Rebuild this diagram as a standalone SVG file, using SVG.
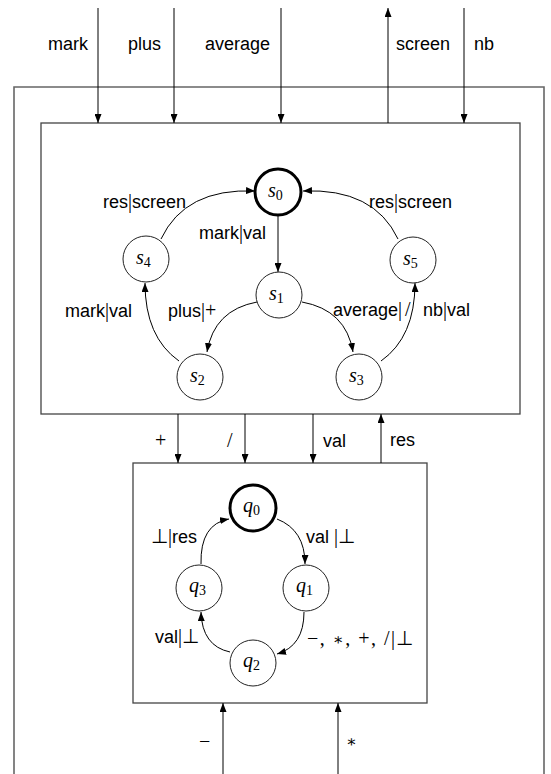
<svg xmlns="http://www.w3.org/2000/svg" width="551" height="774" viewBox="0 0 551 774">
<defs>
<marker id="ah" markerUnits="userSpaceOnUse" markerWidth="9" markerHeight="7" refX="9" refY="3.5" orient="auto">
<path d="M0,0 L9,3.5 L0,7 z" fill="#000"/>
</marker>
<style>
.box{fill:none;stroke:#444;stroke-width:1.3}
.outer{fill:none;stroke:#666;stroke-width:1.6}
.st{fill:#fff;stroke:#222;stroke-width:1}
.init{fill:#fff;stroke:#000;stroke-width:3}
.e{fill:none;stroke:#000;stroke-width:1;marker-end:url(#ah)}
.t{font-family:"Liberation Sans",Arial,sans-serif;font-size:18px;fill:#000}
.m{font-family:"Liberation Serif","Times New Roman",serif;font-size:20px;fill:#000}
.ast{font-family:"DejaVu Serif",serif;font-size:16px}
.sv{font-family:"Liberation Serif","Times New Roman",serif;font-style:italic;font-size:20px;fill:#000}
.sub{font-family:"Liberation Serif","Times New Roman",serif;font-style:normal;font-size:14px}
</style>
</defs>
<rect width="551" height="774" fill="#fff"/>
<g id="outer-box"><path class="outer" d="M14,774 V87 H544 V774"/></g>
<g id="box1"><rect class="box" x="41" y="123" width="479" height="291"/></g>
<g id="box2"><rect class="box" x="133" y="463" width="294" height="240"/></g>

<g id="connectors">
<path class="e" d="M98,8 V123"/>
<path class="e" d="M174,8 V123"/>
<path class="e" d="M281,8 V123"/>
<path class="e" d="M388,123 V8"/>
<path class="e" d="M464,8 V123"/>
<path class="e" d="M178,414 V463"/>
<path class="e" d="M245,414 V463"/>
<path class="e" d="M313,414 V463"/>
<path class="e" d="M381,463 V414"/>
<path class="e" d="M223,774 V703"/>
<path class="e" d="M338,774 V703"/>
<path class="e" d="M278,216 V272"/>
<path class="e" d="M161,239 Q185,188 255,191"/>
<path class="e" d="M398,239 Q374,188 303,191"/>
<path class="e" d="M257,302 Q214,310 207,352"/>
<path class="e" d="M302,302 Q346,310 353,352"/>
<path class="e" d="M179,361 Q145,337 145,283"/>
<path class="e" d="M381,361 Q415,337 415,283"/>
<path class="e" d="M277,519 Q305,530 305,564"/>
<path class="e" d="M304,612 Q304,646 277,654"/>
<path class="e" d="M230,652 Q202,646 201,612"/>
<path class="e" d="M201,564 Q200,524 229,519"/>
</g>

<g id="s0"><circle class="init" cx="278" cy="192" r="23"/><text class="sv" x="268" y="197">s<tspan class="sub" dy="3">0</tspan></text></g>
<g id="s1"><circle class="st" cx="279" cy="295" r="23"/><text class="sv" x="269" y="300">s<tspan class="sub" dy="3">1</tspan></text></g>
<g id="s2"><circle class="st" cx="200" cy="377" r="23"/><text class="sv" x="190" y="382">s<tspan class="sub" dy="3">2</tspan></text></g>
<g id="s3"><circle class="st" cx="359" cy="377" r="23"/><text class="sv" x="349" y="382">s<tspan class="sub" dy="3">3</tspan></text></g>
<g id="s4"><circle class="st" cx="146" cy="259" r="23"/><text class="sv" x="136" y="264">s<tspan class="sub" dy="3">4</tspan></text></g>
<g id="s5"><circle class="st" cx="413" cy="260" r="23"/><text class="sv" x="403" y="265">s<tspan class="sub" dy="3">5</tspan></text></g>

<g id="q0"><circle class="init" cx="253" cy="508" r="23"/><text class="sv" x="243" y="512">q<tspan class="sub" dy="3">0</tspan></text></g>
<g id="q1"><circle class="st" cx="306" cy="588" r="23"/><text class="sv" x="296" y="592">q<tspan class="sub" dy="3">1</tspan></text></g>
<g id="q2"><circle class="st" cx="253" cy="663" r="23"/><text class="sv" x="243" y="667">q<tspan class="sub" dy="3">2</tspan></text></g>
<g id="q3"><circle class="st" cx="199" cy="588" r="23"/><text class="sv" x="189" y="592">q<tspan class="sub" dy="3">3</tspan></text></g>

<g id="labels">
<text class="t" x="48" y="50">mark</text>
<text class="t" x="128" y="50">plus</text>
<text class="t" x="205" y="50">average</text>
<text class="t" x="396" y="50">screen</text>
<text class="t" x="474" y="50">nb</text>

<text class="t" x="103" y="208">res<tspan class="m">|</tspan>screen</text>
<text class="t" x="369" y="208">res<tspan class="m">|</tspan>screen</text>
<text class="t" x="199" y="239">mark<tspan class="m">|</tspan>val</text>
<text class="t" x="65" y="317">mark<tspan class="m">|</tspan>val</text>
<text class="t" x="168" y="317">plus<tspan class="m">|+</tspan></text>
<text class="t" x="333" y="316">average<tspan class="m">|</tspan><tspan class="m" dx="3">/</tspan></text>
<text class="t" x="423" y="316">nb<tspan class="m">|</tspan>val</text>

<text class="m" x="155" y="447">+</text>
<text class="m" x="227" y="447">/</text>
<text class="t" x="323" y="447">val</text>
<text class="t" x="390" y="446">res</text>

<text class="t" x="151" y="543"><tspan class="m">⊥|</tspan>res</text>
<text class="t" x="306" y="543">val <tspan class="m">|⊥</tspan></text>
<text class="t" x="155" y="643">val<tspan class="m">|⊥</tspan></text>
<text class="m" x="307" y="645" letter-spacing="1.5">−, <tspan class="ast">∗</tspan>, +, /|⊥</text>

<text class="m" x="199" y="748">−</text>
<text class="m ast" x="346" y="747">∗</text>
</g>
</svg>
